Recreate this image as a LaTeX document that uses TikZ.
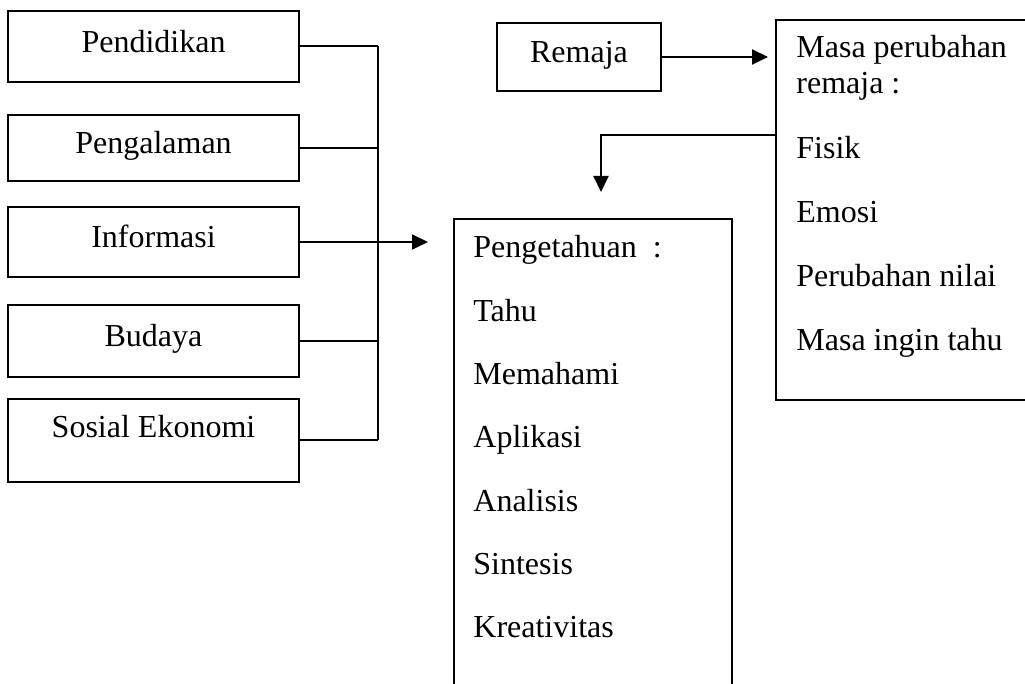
\documentclass[tikz,border=0pt]{standalone}
\usepackage{fontspec}
\setmainfont{Liberation Serif}
\usetikzlibrary{arrows.meta}
\begin{document}
\begin{tikzpicture}[x=0.5pt,y=-0.5pt]
    \tikzstyle{every node}=[font=\fontsize{16}{19}\selectfont]
    \tikzstyle{factor}=[draw=black,line width=1pt,rectangle,inner sep=0pt,minimum width=145.5pt,text height=10pt,text depth=4pt]
    \tikzstyle{panel}=[draw=black,line width=1pt,rectangle,inner sep=0pt,anchor=north west]
    \tikzstyle{item}=[inner sep=0pt,anchor=base west]
    \tikzstyle{link}=[line width=1pt]
    \tikzstyle{flow}=[line width=1pt,-{Triangle[length=8pt,width=7.5pt]}]

    \useasboundingbox (0,0) rectangle (1025,684);
    \clip (0,0) rectangle (1025,684);

    % faktor yang mempengaruhi
    \node[factor,minimum height=35.5pt] at (153.5,46.5) (pend) {Pendidikan};
    \node[factor,minimum height=33pt] at (153.5,148) (alam) {Pengalaman};
    \node[factor,minimum height=35pt] at (153.5,242) (info) {Informasi};
    \node[factor,minimum height=36pt] at (153.5,341) (buda) {Budaya};
    \node[factor,minimum height=41.5pt,text depth=12.5pt] at (153.5,440.5) (sosek) {Sosial Ekonomi};

    \node[factor,minimum width=82pt,minimum height=34pt] at (579,57) (rem) {Remaja};
    \node[panel,minimum width=135pt,minimum height=190pt] at (775,19) (masa) {};
    \node[panel,minimum width=139pt,minimum height=245pt] at (453,218) (peng) {};

    \foreach \t/\y [count=\i] in {Masa perubahan/58,remaja :/94,Fisik/159,Emosi/223,Perubahan nilai/287,Masa ingin tahu/351}
        \node[item] at (796,\y) (m\i) {\t};
    \foreach \t [count=\i from 0] in {Pengetahuan\ \ :,Tahu,Memahami,Aplikasi,Analisis,Sintesis,Kreativitas}
        \node[item] at (473,258+63.3*\i) (p\i) {\t};

    \coordinate (bus) at (378,0);
    \coordinate (ptip) at (428,242);
    \coordinate (fork) at (775,135);
    \coordinate (dtip) at (601,192);

    \draw[link] (pend.east) -- (pend.east -| bus);
    \draw[link] (alam.east) -- (alam.east -| bus);
    \draw[link] (buda.east) -- (buda.east -| bus);
    \draw[link] (sosek.east) -- (sosek.east -| bus);
    \draw[link] (pend.east -| bus) -- (sosek.east -| bus);
    \draw[flow] (info.east) -- (ptip);

    \draw[flow,shorten >=3.5pt] (rem.east) -- (rem.east -| masa.west);
    \draw[flow] (fork) -| (dtip);
\end{tikzpicture}
\end{document}
